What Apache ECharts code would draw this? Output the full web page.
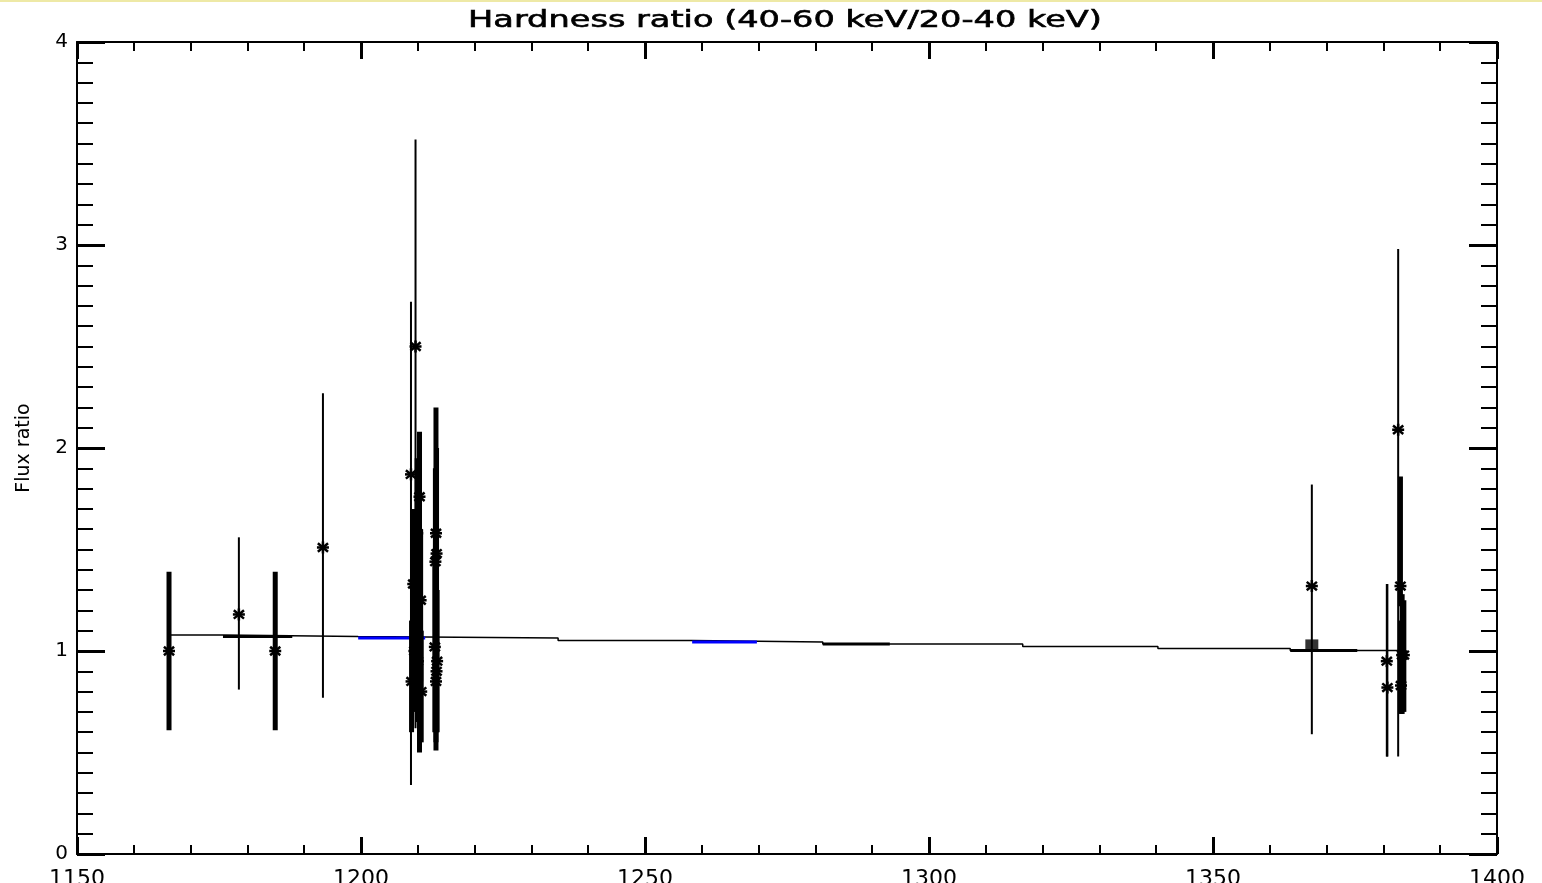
<!DOCTYPE html>
<html>
<head>
<meta charset="utf-8">
<script src="https://cdn.jsdelivr.net/npm/echarts@6/dist/echarts.min.js"></script>
<style>
  html, body { margin: 0; padding: 0; background: #fff; }
  #chart { width: 1542px; height: 883px; }
</style>
</head>
<body>
<div id="chart"></div>
<script>
// x axis ticks
const xTicks = [1150, 1200, 1250, 1300, 1350, 1400];
const yTicks = [0, 1, 2, 3, 4];

// points with thin error bars
const thinX  = [1178.5, 1193.3, 1208.8, 1209.6, 1367.4, 1380.6, 1380.7, 1382.6];
const thinY  = [1.18, 1.51, 1.87, 2.50, 1.32, 0.95, 0.82, 2.09];
const thinLo = [0.81, 0.77, 0.34, 0.62, 0.59, 0.48, 0.48, 0.48];
const thinHi = [1.56, 2.27, 2.72, 3.52, 1.82, 1.33, 1.33, 2.98];

// points with thick error bars
const thickX  = [1166.2, 1184.9, 1210.3, 1209.9, 1209.2, 1209.7, 1210.5, 1209.8, 1209.4, 1208.9, 1210.6, 1210.0,
                 1213.2, 1213.3, 1213.1, 1213.0, 1213.4, 1213.2, 1213.3,
                 1383.0, 1383.3, 1383.1, 1383.6];
const thickY  = [1.00, 1.00, 1.76, 1.58, 1.33, 1.30, 1.25, 1.15, 1.00, 0.85, 0.80, 0.95,
                 1.58, 1.48, 1.44, 1.02, 0.95, 0.85, 0.90,
                 1.32, 0.98, 0.83, 0.98];
const thickLo = [0.61, 0.61, 0.50, 0.70, 0.80, 0.90, 0.85, 0.75, 0.70, 0.60, 0.55, 0.65,
                 0.51, 1.00, 0.90, 0.60, 0.60, 0.55, 0.60,
                 1.22, 0.69, 0.69, 0.70];
const thickHi = [1.39, 1.39, 2.08, 1.95, 1.70, 1.60, 1.60, 1.50, 1.30, 1.15, 1.10, 1.25,
                 2.20, 2.00, 1.90, 1.50, 1.30, 1.20, 1.20,
                 1.86, 1.28, 1.15, 1.25];

// square marker
const squareX = [1367.4];
const squareY = [1.03];

// fitted step line
const fitX = [1166.5, 1175.7, 1199.5, 1234.7, 1258.3, 1281.3, 1316.5, 1340.3, 1363.6, 1383.0];
const fitY = [1.079, 1.071, 1.064, 1.052, 1.044, 1.034, 1.022, 1.012, 1.002, 1.000];

// highlighted bins on the fit
const blackSegStart = [1175.7, 1281.3, 1363.6];
const blackSegEnd   = [1187.9, 1293.1, 1375.4];
const blackSegVal   = [1.071, 1.034, 1.002];
const blueSegStart  = [1199.5, 1258.3];
const blueSegEnd    = [1211.3, 1269.7];
const blueSegVal    = [1.064, 1.044];

let chart = echarts.init(document.getElementById('chart'));

function errRender(barWidth) {
    return function (params, api) {
        let p = api.coord([api.value(0), api.value(1)]);
        let pl = api.coord([api.value(0), api.value(2)]);
        let ph = api.coord([api.value(0), api.value(3)]);
        let s = 6;
        let st = { stroke: '#000', lineWidth: 2.5 };
        return {
            type: 'group',
            children: [
                { type: 'line', shape: { x1: p[0], y1: ph[1], x2: p[0], y2: pl[1] }, style: { stroke: '#000', lineWidth: barWidth } },
                { type: 'line', shape: { x1: p[0] - s, y1: p[1], x2: p[0] + s, y2: p[1] }, style: st },
                { type: 'line', shape: { x1: p[0] - s * 0.85, y1: p[1] - s * 0.7, x2: p[0] + s * 0.85, y2: p[1] + s * 0.7 }, style: st },
                { type: 'line', shape: { x1: p[0] - s * 0.85, y1: p[1] + s * 0.7, x2: p[0] + s * 0.85, y2: p[1] - s * 0.7 }, style: st },
                { type: 'line', shape: { x1: p[0], y1: p[1] - s, x2: p[0], y2: p[1] + s }, style: st }
            ]
        };
    };
}

function segRender(color) {
    return function (params, api) {
        let a = api.coord([api.value(0), api.value(2)]);
        let b = api.coord([api.value(1), api.value(2)]);
        return { type: 'line', shape: { x1: a[0], y1: a[1], x2: b[0], y2: b[1] }, style: { stroke: color, lineWidth: 3 } };
    };
}

const axisCommon = {
    axisLine: { show: true, onZero: false, lineStyle: { color: '#000', width: 2 } },
    splitLine: { show: false },
    minorSplitLine: { show: false }
};

let option = {
    animation: false,
    backgroundColor: '#fff',
    grid: { left: 77, right: 45, top: 42, bottom: 29, containLabel: false, outerBoundsMode: 'none' },
    graphic: [
        { type: 'rect', shape: { x: 0, y: 0, width: 1542, height: 2 }, style: { fill: '#eee9a6' } },
        {
            type: 'text', x: 785, y: 21, scaleX: 1.46,
            style: {
                text: 'Hardness ratio (40-60 keV/20-40 keV)',
                fontSize: 23, fontFamily: 'DejaVu Sans', fill: '#000',
                stroke: '#000', lineWidth: 0.6,
                align: 'center', verticalAlign: 'middle'
            }
        }
    ],
    xAxis: [{
        ...axisCommon,
        type: 'value', position: 'bottom',
        min: xTicks[0], max: xTicks[xTicks.length - 1], interval: 50,
        axisTick: { inside: true, length: 17, lineStyle: { color: '#000', width: 3 } },
        minorTick: { show: true, splitNumber: 5, length: 9, lineStyle: { color: '#000', width: 2 } },
        axisLabel: { color: '#000', fontSize: 22, fontFamily: 'DejaVu Sans', margin: 14, formatter: v => String(v) }
    }, {
        ...axisCommon,
        type: 'value', position: 'top',
        min: xTicks[0], max: xTicks[xTicks.length - 1], interval: 50,
        axisTick: { inside: true, length: 17, lineStyle: { color: '#000', width: 3 } },
        minorTick: { show: true, splitNumber: 5, length: 9, lineStyle: { color: '#000', width: 2 } },
        axisLabel: { show: false }
    }],
    yAxis: [{
        ...axisCommon,
        type: 'value', position: 'left',
        min: yTicks[0], max: yTicks[yTicks.length - 1], interval: 1,
        axisTick: { inside: true, length: 28, lineStyle: { color: '#000', width: 3 } },
        minorTick: { show: true, splitNumber: 10, length: 16, lineStyle: { color: '#000', width: 2 } },
        axisLabel: { color: '#000', fontSize: 20, fontFamily: 'DejaVu Sans', margin: 9 },
        name: 'Flux ratio', nameLocation: 'middle', nameGap: 43, nameRotate: 90,
        nameTextStyle: { color: '#000', fontSize: 19, fontFamily: 'DejaVu Sans' }
    }, {
        ...axisCommon,
        type: 'value', position: 'right',
        min: yTicks[0], max: yTicks[yTicks.length - 1], interval: 1,
        axisTick: { inside: true, length: 28, lineStyle: { color: '#000', width: 3 } },
        minorTick: { show: true, splitNumber: 10, length: 16, lineStyle: { color: '#000', width: 2 } },
        axisLabel: { show: false }
    }],
    series: [{
        type: 'line',
        step: 'end',
        symbol: 'none',
        lineStyle: { color: '#000', width: 1.5 },
        data: fitX.map((x, i) => [x, fitY[i]]),
        z: 2
    }, {
        type: 'custom',
        renderItem: segRender('#000'),
        encode: { x: [0, 1], y: 2 },
        data: blackSegStart.map((x, i) => [x, blackSegEnd[i], blackSegVal[i]]),
        z: 3
    }, {
        type: 'custom',
        renderItem: segRender('#0000ff'),
        encode: { x: [0, 1], y: 2 },
        data: blueSegStart.map((x, i) => [x, blueSegEnd[i], blueSegVal[i]]),
        z: 3
    }, {
        type: 'custom',
        renderItem: errRender(2),
        encode: { x: 0, y: [1, 2, 3] },
        data: thinX.map((x, i) => [x, thinY[i], thinLo[i], thinHi[i]]),
        z: 4
    }, {
        type: 'custom',
        renderItem: errRender(5),
        encode: { x: 0, y: [1, 2, 3] },
        data: thickX.map((x, i) => [x, thickY[i], thickLo[i], thickHi[i]]),
        z: 5
    }, {
        type: 'scatter',
        symbol: 'rect',
        symbolSize: [13, 11],
        itemStyle: { color: '#000' },
        data: squareX.map((x, i) => [x, squareY[i]]),
        z: 6
    }]
};

chart.setOption(option);
</script>
</body>
</html>
